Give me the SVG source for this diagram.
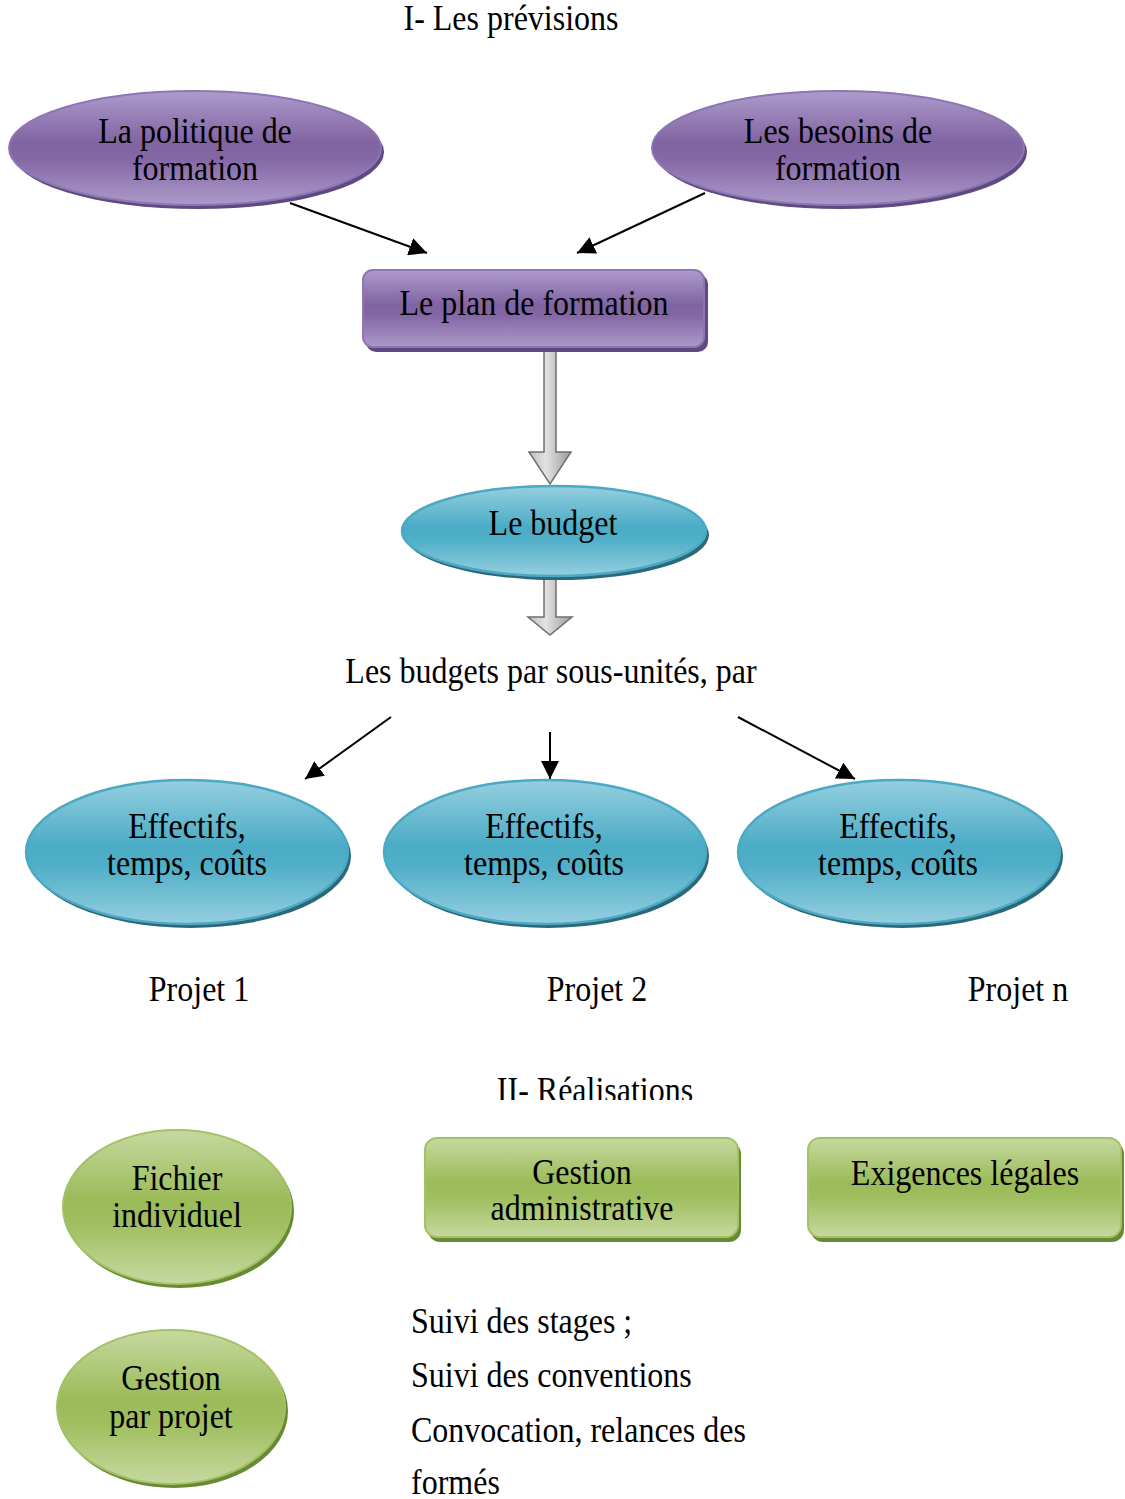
<svg xmlns="http://www.w3.org/2000/svg" width="1125" height="1499" viewBox="0 0 1125 1499">
<style>
  .t { font-family: "Liberation Serif", "Times New Roman", serif; font-size: 32px; fill: #000; }
  .c { text-anchor: middle; }
  .purple { fill: url(#gPurple); stroke: #8d76b3; stroke-width: 2; }
  .purpleSh { fill: #5e4a80; }
  .cyan { fill: url(#gCyan); stroke: #4aa9c3; stroke-width: 2.5; }
  .cyanSh { fill: #2c6878; }
  .green { fill: url(#gGreen); stroke: #a3c165; stroke-width: 2; }
  .greenSh { fill: #688a33; }
  .grey { fill: url(#gGrey); stroke: #6e6e6e; stroke-width: 1.5; }
</style>
<defs>
  <linearGradient id="gPurple" x1="0" y1="0" x2="0" y2="1">
    <stop offset="0" stop-color="#ae9bcb"/>
    <stop offset="0.45" stop-color="#8064a2"/>
    <stop offset="0.6" stop-color="#8468a6"/>
    <stop offset="1" stop-color="#ad9ac9"/>
  </linearGradient>
  <linearGradient id="gCyan" x1="0" y1="0" x2="0" y2="1">
    <stop offset="0" stop-color="#96cfdf"/>
    <stop offset="0.45" stop-color="#4bacc6"/>
    <stop offset="0.6" stop-color="#50afc8"/>
    <stop offset="1" stop-color="#96cfdf"/>
  </linearGradient>
  <linearGradient id="gGreen" x1="0" y1="0" x2="0" y2="1">
    <stop offset="0" stop-color="#c6d9a0"/>
    <stop offset="0.45" stop-color="#9bbb59"/>
    <stop offset="0.6" stop-color="#9fbe5e"/>
    <stop offset="1" stop-color="#c6d9a0"/>
  </linearGradient>
  <linearGradient id="gGrey" x1="0" y1="0" x2="1" y2="0">
    <stop offset="0" stop-color="#bdbdbd"/>
    <stop offset="0.4" stop-color="#e2e2e2"/>
    <stop offset="1" stop-color="#9a9a9a"/>
  </linearGradient>
  <marker id="ah2" viewBox="0 0 10 10" refX="10" refY="5" markerWidth="18" markerHeight="18" orient="auto" markerUnits="userSpaceOnUse">
    <path d="M0,0 L10,5 L0,10 Z" fill="#000"/>
  </marker>
  <clipPath id="clipTop"><rect x="0" y="0" width="1125" height="181"/></clipPath>
  <clipPath id="clipII"><rect x="0" y="1060" width="1125" height="40"/></clipPath>
</defs>

<rect width="1125" height="1499" fill="#fff"/>

<!-- Title -->
<text class="t c" transform="translate(511,30) scale(1,1.1)">I- Les prévisions</text>

<!-- Connectors -->
<g id="connectors" stroke="#000" stroke-width="2" fill="none">
  <line x1="290" y1="203" x2="427" y2="253" marker-end="url(#ah2)"/>
  <line x1="705" y1="193" x2="577" y2="253" marker-end="url(#ah2)"/>
  <line x1="391" y1="717" x2="305" y2="779" marker-end="url(#ah2)"/>
  <line x1="550" y1="732" x2="550" y2="779" marker-end="url(#ah2)"/>
  <line x1="738" y1="717" x2="855" y2="779" marker-end="url(#ah2)"/>
  <path class="grey" d="M544,347 L556,347 L556,452 L571,452 L550,484 L529,452 L544,452 Z"/>
  <path class="grey" d="M544,573 L556,573 L556,617 L572,617 L550,635 L528,617 L544,617 Z"/>
</g>

<!-- La politique de formation -->
<g id="politique">
  <ellipse class="purpleSh" cx="198" cy="152" rx="186" ry="57"/>
  <ellipse class="purple" cx="195" cy="148" rx="186" ry="57"/>
  <g clip-path="url(#clipTop)">
    <text class="t c" transform="translate(195,143) scale(1,1.1)">La politique de</text>
    <text class="t c" transform="translate(195,180) scale(1,1.1)">formation</text>
  </g>
</g>

<!-- Les besoins de formation -->
<g id="besoins">
  <ellipse class="purpleSh" cx="841" cy="152" rx="186" ry="57"/>
  <ellipse class="purple" cx="838" cy="148" rx="186" ry="57"/>
  <g clip-path="url(#clipTop)">
    <text class="t c" transform="translate(838,143) scale(1,1.1)">Les besoins de</text>
    <text class="t c" transform="translate(838,180) scale(1,1.1)">formation</text>
  </g>
</g>

<!-- Le plan de formation -->
<g id="plan">
  <rect class="purpleSh" x="366" y="274" width="342" height="78" rx="10"/>
  <rect class="purple" x="363" y="270" width="341" height="77" rx="10"/>
  <text class="t c" transform="translate(534,315) scale(1,1.1)">Le plan de formation</text>
</g>

<!-- Le budget -->
<g id="budget">
  <ellipse class="cyanSh" cx="557" cy="535" rx="152" ry="45"/>
  <ellipse class="cyan" cx="554" cy="531" rx="152" ry="45"/>
  <text class="t c" transform="translate(553,535) scale(1,1.1)">Le budget</text>
</g>

<text class="t c" transform="translate(551,683) scale(1,1.1)">Les budgets par sous-unités, par</text>

<!-- Effectifs 1 -->
<g id="effectifs1">
  <ellipse class="cyanSh" cx="190" cy="856" rx="161" ry="72"/>
  <ellipse class="cyan" cx="187" cy="852" rx="161" ry="72"/>
  <text class="t c" transform="translate(187,838) scale(1,1.1)">Effectifs,</text>
  <text class="t c" transform="translate(187,875) scale(1,1.1)">temps, coûts</text>
</g>
<!-- Effectifs 2 -->
<g id="effectifs2">
  <ellipse class="cyanSh" cx="548" cy="856" rx="161" ry="72"/>
  <ellipse class="cyan" cx="545" cy="852" rx="161" ry="72"/>
  <text class="t c" transform="translate(544,838) scale(1,1.1)">Effectifs,</text>
  <text class="t c" transform="translate(544,875) scale(1,1.1)">temps, coûts</text>
</g>
<!-- Effectifs 3 -->
<g id="effectifs3">
  <ellipse class="cyanSh" cx="902" cy="856" rx="161" ry="72"/>
  <ellipse class="cyan" cx="899" cy="852" rx="161" ry="72"/>
  <text class="t c" transform="translate(898,838) scale(1,1.1)">Effectifs,</text>
  <text class="t c" transform="translate(898,875) scale(1,1.1)">temps, coûts</text>
</g>

<text class="t c" transform="translate(199,1001) scale(1,1.1)">Projet 1</text>
<text class="t c" transform="translate(597,1001) scale(1,1.1)">Projet 2</text>
<text class="t c" transform="translate(1018,1001) scale(1,1.1)">Projet n</text>

<g clip-path="url(#clipII)">
  <text class="t c" transform="translate(595,1102) scale(1,1.1)">II- Réalisations</text>
</g>

<!-- Fichier individuel -->
<g id="fichier">
  <ellipse class="greenSh" cx="180" cy="1211" rx="114" ry="77"/>
  <ellipse class="green" cx="177" cy="1207" rx="114" ry="77"/>
  <text class="t c" transform="translate(177,1190) scale(1,1.1)">Fichier</text>
  <text class="t c" transform="translate(177,1227) scale(1,1.1)">individuel</text>
</g>

<!-- Gestion par projet -->
<g id="gestionProjet">
  <ellipse class="greenSh" cx="174" cy="1411" rx="114" ry="77"/>
  <ellipse class="green" cx="171" cy="1407" rx="114" ry="77"/>
  <text class="t c" transform="translate(171,1390) scale(1,1.1)">Gestion</text>
  <text class="t c" transform="translate(171,1428) scale(1,1.1)">par projet</text>
</g>

<!-- Gestion administrative -->
<g id="gestionAdmin">
  <rect class="greenSh" x="428" y="1142" width="313" height="100" rx="12"/>
  <rect class="green" x="425" y="1138" width="313" height="99" rx="12"/>
  <text class="t c" transform="translate(582,1184) scale(1,1.1)">Gestion</text>
  <text class="t c" transform="translate(582,1220) scale(1,1.1)">administrative</text>
</g>

<!-- Exigences légales -->
<g id="exigences">
  <rect class="greenSh" x="811" y="1142" width="313" height="100" rx="12"/>
  <rect class="green" x="808" y="1138" width="313" height="99" rx="12"/>
  <text class="t c" transform="translate(965,1185) scale(1,1.1)">Exigences légales</text>
</g>

<text class="t" transform="translate(411,1333) scale(1,1.1)">Suivi des stages ;</text>
<text class="t" transform="translate(411,1387) scale(1,1.1)">Suivi des conventions</text>
<text class="t" transform="translate(411,1442) scale(1,1.1)">Convocation, relances des</text>
<text class="t" transform="translate(411,1494) scale(1,1.1)">formés</text>
</svg>
